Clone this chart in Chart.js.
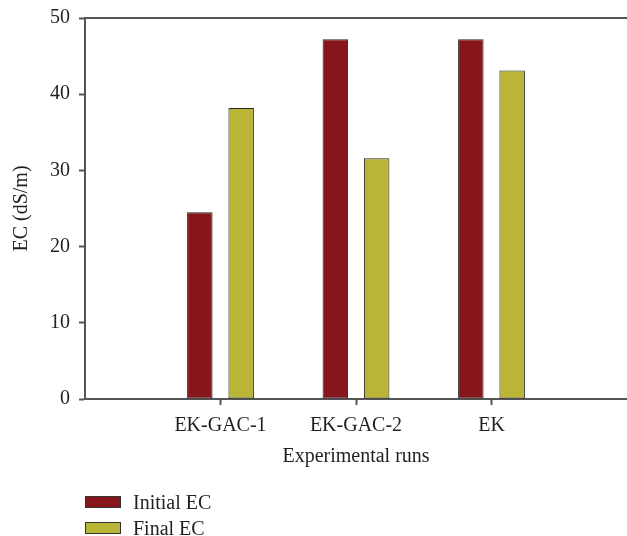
<!DOCTYPE html>
<html>
<head>
<meta charset="utf-8">
<script src="https://cdn.jsdelivr.net/npm/chart.js@4"></script>
<style>
  body { margin: 0; background: #fff; }
  #wrap { position: relative; width: 627px; height: 536px; }
  #legend { position: absolute; left: 85px; top: 489px; font: 20px "Liberation Serif", serif; color: #231f20; }
  .item { display: flex; align-items: center; height: 26px; }
  .box { width: 34px; height: 10px; border: 1px solid #333; margin-right: 12px; }
</style>
</head>
<body>
<div id="wrap">
  <canvas id="myChart" width="627" height="536"></canvas>
  <div id="legend"></div>
</div>
<script>
const ctx = document.getElementById('myChart');

// data
const runs = ['', 'EK-GAC-1', 'EK-GAC-2', 'EK', ''];
const initialEC = [null, 24.5, 47.2, 47.2, null];
const finalEC = [null, 38.2, 31.6, 43.1, null];
const yTicks = [0, 10, 20, 30, 40, 50];

const serif = '"Liberation Serif", "Times New Roman", serif';
const axisGray = '#555';

// top frame line
const topLine = {
    id: 'topLine',
    afterDraw(chart) {
        const a = chart.chartArea;
        const c = chart.ctx;
        c.save();
        c.strokeStyle = axisGray;
        c.lineWidth = 2;
        c.beginPath();
        c.moveTo(a.left - 1, a.top);
        c.lineTo(chart.width, a.top);
        c.stroke();
        c.restore();
    }
};

const myChart = new Chart(ctx, {
    type: 'bar',
    data: {
        labels: runs,
        datasets: [{
            label: 'Initial EC',
            data: initialEC,
            backgroundColor: '#86161b',
            borderColor: '#262626',
            borderWidth: 1,
            borderSkipped: false
        }, {
            label: 'Final EC',
            data: finalEC,
            backgroundColor: '#bab536',
            borderColor: '#262626',
            borderWidth: 1,
            borderSkipped: false
        }]
    },
    options: {
        responsive: false,
        animation: false,
        categoryPercentage: 0.61,
        barPercentage: 0.617,
        layout: { padding: { top: 18, right: 0, left: 0, bottom: 63 } },
        plugins: {
            legend: { display: false },
            tooltip: { enabled: false }
        },
        scales: {
            x: {
                offset: false,
                grid: {
                    offset: false,
                    drawOnChartArea: false,
                    drawTicks: true,
                    tickLength: 6,
                    tickColor: c => (c.index === 0 || c.index === runs.length - 1) ? 'rgba(0,0,0,0)' : axisGray,
                    tickWidth: 2
                },
                border: { color: axisGray, width: 2 },
                ticks: {
                    autoSkip: false,
                    maxRotation: 0,
                    padding: 9,
                    color: '#231f20',
                    font: { family: serif, size: 20 }
                },
                title: {
                    display: true,
                    text: 'Experimental runs',
                    color: '#231f20',
                    font: { family: serif, size: 20 },
                    padding: { top: 4, bottom: 4 }
                },
                afterFit(scale) {
                    scale.height = 74;
                    scale.paddingLeft = 0;
                    scale.paddingRight = 0;
                }
            },
            y: {
                min: 0,
                max: 50,
                afterBuildTicks(scale) { scale.ticks = yTicks.map(v => ({ value: v })); },
                grid: {
                    drawOnChartArea: false,
                    drawTicks: true,
                    tickLength: 6,
                    tickColor: axisGray,
                    tickWidth: 2
                },
                border: { color: axisGray, width: 2 },
                ticks: {
                    padding: 9,
                    color: '#231f20',
                    font: { family: serif, size: 20 }
                },
                title: {
                    display: true,
                    text: 'EC (dS/m)',
                    color: '#231f20',
                    font: { family: serif, size: 20 },
                    padding: { top: 10, bottom: 4 }
                },
                afterFit(scale) {
                    scale.width = 85;
                    scale.paddingTop = 0;
                    scale.paddingBottom = 0;
                }
            }
        }
    },
    plugins: [topLine]
});

// legend built from the datasets
const legend = document.getElementById('legend');
myChart.data.datasets.forEach(ds => {
    const item = document.createElement('div');
    item.className = 'item';
    item.innerHTML = '<span class="box" style="background:' + ds.backgroundColor + '"></span>' + ds.label;
    legend.appendChild(item);
});
</script>
</body>
</html>
